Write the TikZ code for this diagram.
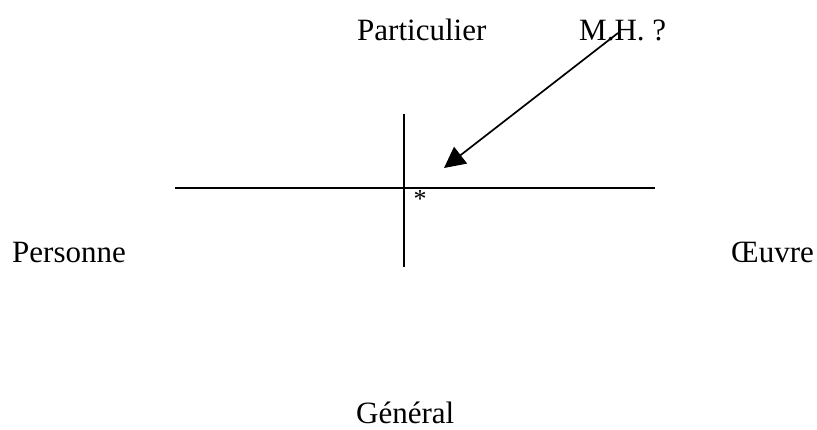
\documentclass[tikz,border=0pt]{standalone}
\usepackage{fontspec}
\setmainfont{Liberation Serif}
\usetikzlibrary{arrows.meta}
\begin{document}
\begin{tikzpicture}[x=1pt,y=-1pt,
  lbl/.style={inner sep=0pt, font=\fontsize{31}{36}\selectfont, anchor=base west},
  axis/.style={line width=1.7pt}]
\useasboundingbox (0,0) rectangle (817,429);
\node[lbl] (part) at (357,40) {Particulier};
\node[lbl] (mh) at (579,40) {M.H. ?};
\node[lbl] (pers) at (12,262) {Personne};
\node[lbl] (oeuv) at (731,262) {Œuvre};
\node[lbl] (gen) at (356,423) {Général};
\coordinate (hl) at (175,188);
\coordinate (hr) at (655,188);
\coordinate (vt) at (404,114);
\coordinate (vb) at (404,267);
\draw[axis] (hl) -- (hr);
\draw[axis] (vt) -- (vb);
\node[inner sep=0pt, font=\fontsize{26}{30}\selectfont, anchor=base] (star) at (420,207) {*};
\coordinate (as) at (618,33);
\coordinate (at) at (444,168);
\draw[axis, -{Triangle[length=21pt,width=21pt]}] (as) -- (at);
\end{tikzpicture}
\end{document}
